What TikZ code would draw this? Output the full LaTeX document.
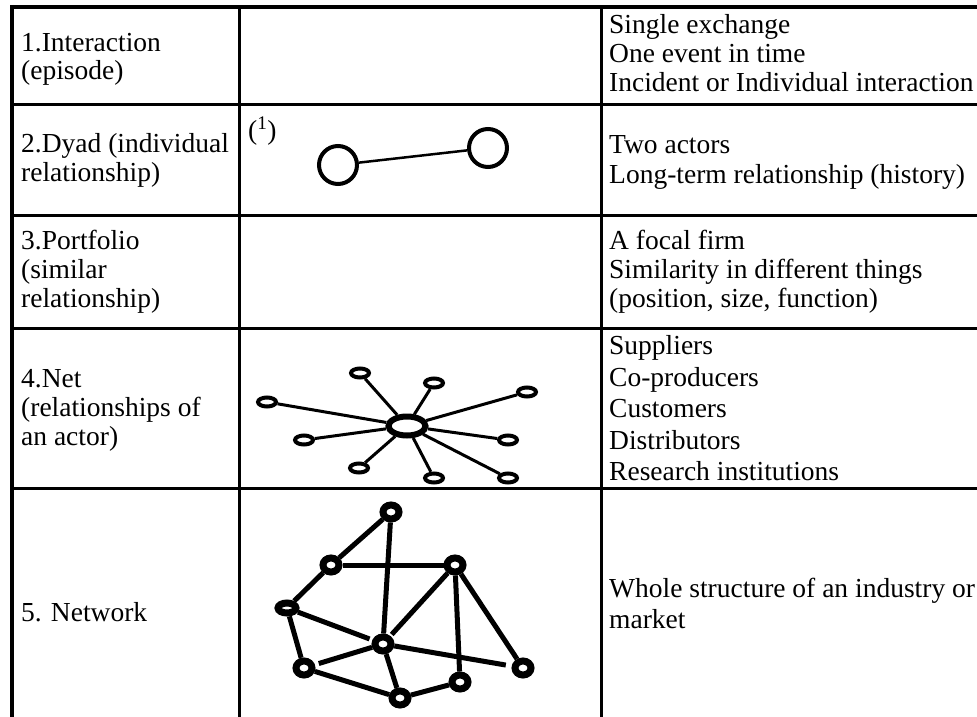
\documentclass[tikz,border=0pt]{standalone}
\usepackage{fontspec}
\setmainfont{Liberation Serif}
\usetikzlibrary{shapes.geometric}
\begin{document}
\begin{tikzpicture}[x=1pt,y=-1pt,
  txt/.style={anchor=base west, inner sep=0pt, font=\fontsize{27.5}{30}\selectfont},
  rule/.style={line width=3pt},
  frame/.style={line width=4pt},
  dyadactor/.style={circle, draw, line width=4pt, minimum size=38pt, inner sep=0pt},
  dyadlink/.style={line width=2.5pt},
  hub/.style={ellipse, draw, line width=6pt, minimum width=37pt, minimum height=19pt, inner sep=0pt},
  spoke/.style={ellipse, draw, line width=4pt, minimum width=18pt, minimum height=9pt, inner sep=0pt},
  spokelink/.style={line width=3pt},
  actor/.style={ellipse, draw, line width=7pt, minimum width=16pt, minimum height=14pt, inner sep=0pt},
  tie/.style={line width=5pt},
]
\useasboundingbox (0,0) rectangle (977,717);

% table frame and rules
\draw[frame] (10,7) -- (977,7);
\draw[frame] (12,5) -- (12,717);
\draw[rule] (239.5,7) -- (239.5,717);
\draw[rule] (601.5,7) -- (601.5,717);
\foreach \yy in {104.5,215,328.5,488.5}
  \draw[rule] (12,\yy) -- (977,\yy);

% left column
\node[txt] (l1a) at (21,52)  {1.Interaction};
\node[txt] (l1b) at (21,80)  {(episode)};
\node[txt] (l2a) at (21,152) {2.Dyad (individual};
\node[txt] (l2b) at (21,181) {relationship)};
\node[txt] (l3a) at (21,249) {3.Portfolio};
\node[txt] (l3b) at (21,278) {(similar};
\node[txt] (l3c) at (21,307) {relationship)};
\node[txt] (l4a) at (21,387) {4.Net};
\node[txt] (l4b) at (21,416) {(relationships of};
\node[txt] (l4c) at (21,445) {an actor)};
\node[txt] (l5a) at (21,621) {5. Network};

% right column
\node[txt] (r1a) at (609,34)  {Single exchange};
\node[txt] (r1b) at (609,63)  {One event in time};
\node[txt] (r1c) at (609,92)  {Incident or Individual interaction};
\node[txt] (r2a) at (609,153) {Two actors};
\node[txt] (r2b) at (609,183) {Long-term relationship (history)};
\node[txt] (r3a) at (609,249) {A focal firm};
\node[txt] (r3b) at (609,278) {Similarity in different things};
\node[txt] (r3c) at (609,307) {(position, size, function)};
\node[txt] (r4a) at (609,354) {Suppliers};
\node[txt] (r4b) at (609,386) {Co-producers};
\node[txt] (r4c) at (609,417) {Customers};
\node[txt] (r4d) at (609,449) {Distributors};
\node[txt] (r4e) at (609,480) {Research institutions};
\node[txt] (r5a) at (609,597) {Whole structure of an industry or};
\node[txt] (r5b) at (609,628) {market};

% dyad
\node[txt] (note) at (248,139) {(\textsuperscript{1})};
\node[dyadactor] (d1) at (338,165) {};
\node[dyadactor] (d2) at (488,148) {};
\draw[dyadlink] (d1) -- (d2);

% net of a focal actor
\node[hub] (hub) at (407,426) {};
\foreach \nm/\px/\py in {s1/267/402, s2/360/373, s3/434/383, s4/527/392,
                          s5/304/440, s6/508/440, s7/359/468, s8/434/478, s9/508/478}{
  \node[spoke] (\nm) at (\px,\py) {};
  \draw[spokelink] (hub) -- (\nm);
}

% whole network
\node[actor] (A) at (391,512) {};
\node[actor] (B) at (331,565) {};
\node[actor] (C) at (455,565) {};
\node[actor, minimum width=18pt, minimum height=10pt] (D) at (287,608) {};
\node[actor] (E) at (383,644) {};
\node[actor] (F) at (304,668) {};
\node[actor] (G) at (400,698) {};
\node[actor] (H) at (460,682) {};
\node[actor] (I) at (523,668) {};
\draw[tie] (A) -- (B);
\draw[tie] (A) -- (E);
\draw[tie] (B) -- (C);
\draw[tie] (B) -- (D);
\draw[tie, shorten >=3pt] (D) -- (E);
\draw[tie] (D) -- (F);
\draw[tie, shorten <=4pt] (F) -- (E);
\draw[tie] (F) -- (G);
\draw[tie] (E) -- (G);
\draw[tie] (G) -- (H);
\draw[tie, shorten >=2pt] (C) -- (E);
\draw[tie] (C) -- (H);
\draw[tie] (C) -- (I);
\draw[tie, shorten >=6pt] (E) -- (I);
\end{tikzpicture}
\end{document}
